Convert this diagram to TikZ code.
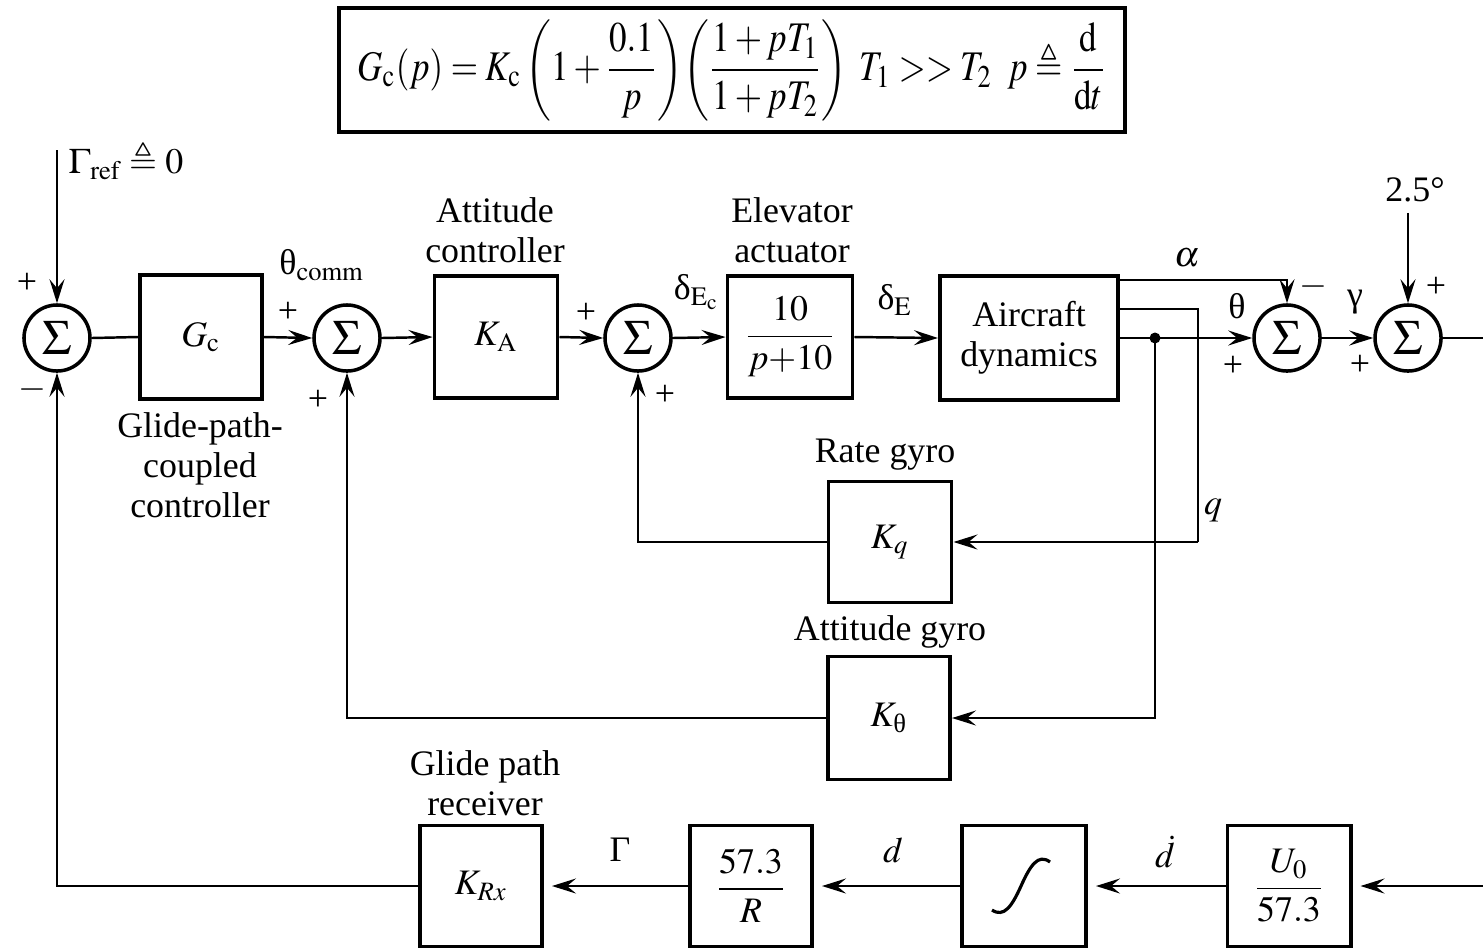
\documentclass[tikz,border=0pt]{standalone}
\usepackage{mathptmx}
\usepackage{amsmath,amssymb}
\usepackage{graphicx}
\usepackage{fontspec}
\setmainfont{Liberation Serif}
\usetikzlibrary{arrows.meta}
\begin{document}
\begin{tikzpicture}[x=0.01cm,y=-0.01cm,font=\fontsize{10.2}{11.4}\selectfont,
  sig/.style={line width=0.7pt},
  arr/.style={sig,-{Stealth[length=2.4mm,width=1.5mm,inset=0.9mm]}},
  arrg/.style={arr,shorten >=0.08cm},
  blk/.style={draw,line width=1.1pt,minimum width=1.22cm,minimum height=1.22cm,inner sep=0pt,align=center},
  sumj/.style={draw,circle,line width=1pt,minimum size=0.66cm,inner sep=0pt,font=\fontsize{14}{14}\selectfont},
  lbl/.style={inner sep=0pt,align=center}]
\useasboundingbox (0,0) rectangle (1483,948);

% formula box
\node[draw,line width=1.2pt,minimum width=7.85cm,minimum height=1.24cm,inner sep=1pt,font=\fontsize{12}{14}\selectfont] (fbox) at (732,70)
 {\scalebox{0.83}[1]{$G_{\mathrm c}(p) = K_{\mathrm c}\left(1+\dfrac{0.1}{p}\right)\!\left(\dfrac{1+pT_1}{1+pT_2}\right)\;T_1 >> T_2\;\;p\triangleq\dfrac{\mathrm d}{\mathrm dt}$}};

% summing junctions
\node[sumj] (S1) at (57,338) {$\Sigma$};
\node[sumj] (S2) at (347,338) {$\Sigma$};
\node[sumj] (S3) at (638,338) {$\Sigma$};
\node[sumj] (S4) at (1287,338) {$\Sigma$};
\node[sumj] (S5) at (1408,338) {$\Sigma$};

% blocks
\node[blk,minimum height=1.24cm] (Gc) at (201,337) {$G_{\mathrm c}$};
\node[blk,minimum width=1.23cm] (KA) at (496,337) {$K_{\mathrm A}$};
\node[blk,minimum width=1.25cm] (Act) at (790,337) {$\dfrac{10}{p{+}10}$};
\node[blk,minimum width=1.78cm,minimum height=1.24cm] (AC) at (1029,338) {Aircraft\\dynamics};
\node[blk,minimum width=1.23cm,minimum height=1.21cm] (Kq) at (890,542) {$K_q$};
\node[blk,minimum height=1.23cm] (Kth) at (889,718) {$K_{\text{θ}}$};
\node[blk,minimum height=1.21cm] (KRx) at (481,886) {$K_{Rx}$};
\node[blk,minimum height=1.21cm] (R) at (751,886) {$\dfrac{57.3}{R}$};
\node[blk,minimum width=1.24cm,minimum height=1.21cm] (Sg) at (1024,886) {};
\node[blk,minimum width=1.23cm,minimum height=1.21cm] (U0) at (1289,886) {$\dfrac{U_0}{57.3}$};
\draw[line width=0.9pt] (992,910) .. controls (1004,918) and (1012,906) .. (1021,886) .. controls (1030,866) and (1038,853) .. (1050,862);

% block captions
\node[lbl] (capKA) at (495,230) {Attitude\\controller};
\node[lbl] (capAct) at (792,230) {Elevator\\actuator};
\node[lbl] (capGc) at (200,465) {Glide-path-\\coupled\\controller};
\node[lbl] (capKq) at (885,455) {Rate gyro};
\node[lbl] (capKth) at (890,632) {Attitude gyro};
\node[lbl] (capKRx) at (485,783) {Glide path\\receiver};

% coordinates
\coordinate (gin) at (57,150);
\coordinate (tap) at (1155,338);
\coordinate (qx) at (1198,542);
\coordinate (rout) at (1483,338);
\coordinate (rin) at (1483,886);

% signal labels
\node[lbl,anchor=west] (lGref) at (68,160) {$\Gamma_{\mathrm{ref}}\triangleq 0$};
\node[lbl] (l25) at (1415,190) {2.5°};
\node[lbl] (lthc) at (322,265) {θ$_{\mathrm{comm}}$};
\node[lbl] (ldEc) at (697,292) {δ$_{\mathrm{E_c}}$};
\node[lbl] (ldE) at (895,300) {δ$_{\mathrm E}$};
\node[lbl] (lal) at (1187,258) {$\alpha$};
\node[lbl] (lth) at (1237,306) {θ};
\node[lbl] (lga) at (1355,302) {γ};
\node[lbl] (lq) at (1213,510) {$q$};
\node[lbl] (lG) at (620,850) {Γ};
\node[lbl] (ld) at (893,850) {$d$};
\node[lbl] (ldd) at (1165,852) {$\dot d$};

% signs
\node[lbl] at (27,283) {+};
\node[lbl] at (32,390) {$-$};
\node[lbl] at (288,312) {+};
\node[lbl] at (318,400) {+};
\node[lbl] at (586,313) {+};
\node[lbl] at (665,395) {+};
\node[lbl] at (1313,287) {$-$};
\node[lbl] at (1233,366) {+};
\node[lbl] at (1436,287) {+};
\node[lbl] at (1360,365) {+};

% forward path
\draw[arr] (gin) -- (S1.north);
\draw[sig] (S1.east) -- (Gc.west);
\draw[arr] (Gc.east) -- (S2.west);
\draw[arr] (S2.east) -- (KA.west);
\draw[arr] (KA.east) -- (S3.west);
\draw[arr] (S3.east) -- (Act.west);
\draw[arr] (Act.east) -- (AC.west);
\draw[arr] (AC.east |- 0,280) -| (S4.north);
\draw[arr] (AC.east) -- (S4.west);
\draw[arr] (S4.east) -- (S5.west);
\draw[arr,shorten <=0.1cm] (S5.north |- l25.south) -- (S5.north);
\draw[sig] (S5.east) -- (rout);

% inner loops
\draw[sig] (AC.east |- 0,309) -| (qx);
\draw[arr] (qx) -- (Kq.east);
\draw[arr] (Kq.west) -| (S3.south);
\fill (tap) circle (5.5);
\draw[arr] (tap) |- (Kth.east);
\draw[arr] (Kth.west) -| (S2.south);

% outer loop
\draw[arrg] (rin) -- (U0.east);
\draw[arrg] (U0.west) -- (Sg.east);
\draw[arrg] (Sg.west) -- (R.east);
\draw[arrg] (R.west) -- (KRx.east);
\draw[arr] (KRx.west) -| (S1.south);
\end{tikzpicture}
\end{document}
